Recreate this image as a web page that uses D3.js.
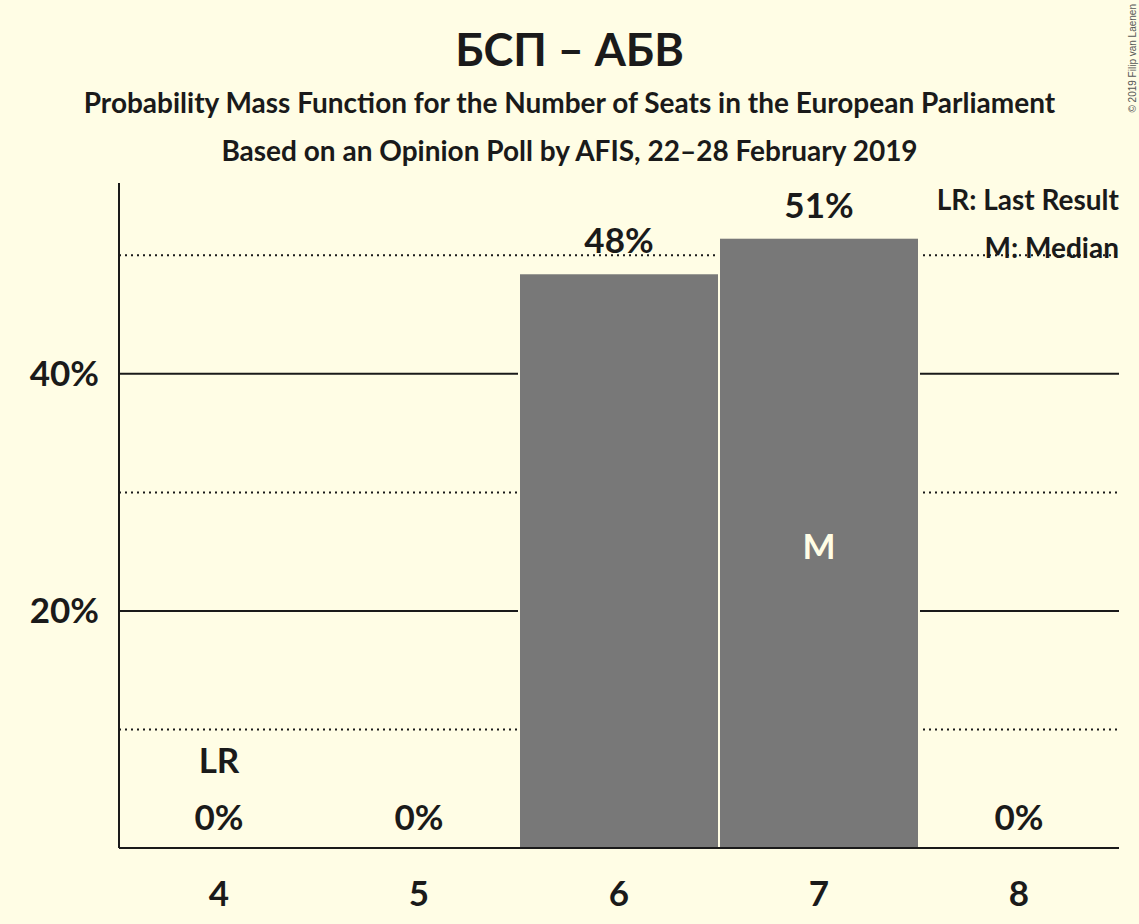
<!DOCTYPE html>
<html>
<head>
<meta charset="utf-8">
<script src="https://cdn.jsdelivr.net/npm/d3@7"></script>
<style>
  body { margin: 0; background: #fffde5; }
  svg text { font-family: Lato, "Open Sans", sans-serif; fill: #1a1a1a; }
</style>
</head>
<body>
<svg id="chart" width="1139" height="924"></svg>
<script>
// Seats and probabilities (percent)
const seats = [4, 5, 6, 7, 8];
const probabilities = [0, 0, 48.4, 51.4, 0];
const valueLabels = ["0%", "0%", "48%", "51%", "0%"];
const lastResult = 4;
const median = 7;
const yTicks = [20, 40];
const yMinorTicks = [10, 30, 50];

const bg = "#fffde5";
const barColor = "#787878";
const ink = "#1a1a1a";

const margin = { top: 183, right: 20, bottom: 76, left: 119 };
const width = 1139 - margin.left - margin.right;
const height = 924 - margin.top - margin.bottom;

const svg = d3.select("#chart");
svg.append("rect").attr("width", 1139).attr("height", 924).attr("fill", bg);

// Titles
svg.append("text")
	.attr("x", 569.5).attr("y", 66)
	.attr("text-anchor", "middle")
	.style("font-size", "45px").style("font-weight", "bold")
	.text("БСП – АБВ");
svg.append("text")
	.attr("x", 569.5).attr("y", 113)
	.attr("text-anchor", "middle")
	.style("font-size", "28px").style("font-weight", "bold")
	.text("Probability Mass Function for the Number of Seats in the European Parliament");
svg.append("text")
	.attr("x", 569.5).attr("y", 161)
	.attr("text-anchor", "middle")
	.style("font-size", "28px").style("font-weight", "bold")
	.text("Based on an Opinion Poll by AFIS, 22–28 February 2019");

// Copyright
svg.append("text")
	.attr("transform", "translate(1136,4) rotate(-90)")
	.attr("text-anchor", "end")
	.style("font-family", "'Liberation Sans', Arial, sans-serif")
	.style("font-size", "10px")
	.style("fill", "#555")
	.text("© 2019 Filip van Laenen");

const g = svg.append("g").attr("transform", `translate(${margin.left},${margin.top})`);

const x = d3.scaleBand().domain(seats).range([0, width]).padding(0);
const y = d3.scaleLinear().domain([0, 56.1]).range([height, 0]);

// Gridlines
g.selectAll(".minor")
	.data(yMinorTicks)
	.enter().append("line")
	.attr("x1", 0).attr("x2", width)
	.attr("y1", d => y(d)).attr("y2", d => y(d))
	.attr("stroke", ink).attr("stroke-width", 2)
	.attr("stroke-dasharray", "2,4");
g.selectAll(".major")
	.data(yTicks)
	.enter().append("line")
	.attr("x1", 0).attr("x2", width)
	.attr("y1", d => y(d)).attr("y2", d => y(d))
	.attr("stroke", ink).attr("stroke-width", 2);

// Legend
const legend = g.append("g").style("font-size", "28px").style("font-weight", "bold").attr("text-anchor", "end");
legend.append("text").attr("x", width).attr("y", 27).text("LR: Last Result");
legend.append("text").attr("x", width).attr("y", 75).text("M: Median");

// Bars
const data = seats.map((s, i) => ({ seat: s, value: probabilities[i], label: valueLabels[i] }));
const shown = data.filter(d => d.value > 0);

// background halo behind each bar so gridlines break around it
g.selectAll(".halo")
	.data(shown)
	.enter().append("rect")
	.attr("x", d => x(d.seat) - 1)
	.attr("width", x.bandwidth() + 2)
	.attr("y", d => y(d.value) - 2)
	.attr("height", d => height - y(d.value) + 1)
	.attr("fill", bg);

g.selectAll(".bar")
	.data(shown)
	.enter().append("rect")
	.attr("class", "bar")
	.attr("x", d => x(d.seat) + 1)
	.attr("width", x.bandwidth() - 2)
	.attr("y", d => y(d.value))
	.attr("height", d => height - y(d.value))
	.attr("fill", barColor);

// Value labels
g.selectAll(".value")
	.data(data)
	.enter().append("text")
	.attr("x", d => x(d.seat) + x.bandwidth() / 2)
	.attr("y", d => d.value > 0 ? y(d.value) - 21 : height - 18)
	.attr("text-anchor", "middle")
	.style("font-size", "35px").style("font-weight", "bold")
	.text(d => d.label);

// Last result marker
g.append("text")
	.attr("x", x(lastResult) + x.bandwidth() / 2)
	.attr("y", height - 75)
	.attr("text-anchor", "middle")
	.style("font-size", "35px").style("font-weight", "bold")
	.text("LR");

// Median marker
const medVal = probabilities[seats.indexOf(median)];
g.append("text")
	.attr("x", x(median) + x.bandwidth() / 2)
	.attr("y", y(medVal / 2) + 16)
	.attr("text-anchor", "middle")
	.style("font-size", "35px").style("font-weight", "bold")
	.style("fill", bg)
	.text("M");

// Axes
const yAxis = g.append("g")
	.call(d3.axisLeft(y).tickValues(yTicks).tickFormat(d => d + "%").tickSize(0).tickPadding(20));
yAxis.select(".domain").attr("stroke", ink).attr("stroke-width", 2).attr("d", `M0,${height}V0`);
yAxis.selectAll("text").style("font-size", "35px").style("font-weight", "bold").attr("fill", ink);

const xAxis = g.append("g")
	.attr("transform", `translate(0,${height})`)
	.call(d3.axisBottom(x).tickSize(0).tickPadding(33));
xAxis.select(".domain").attr("stroke", ink).attr("stroke-width", 2).attr("d", `M0,0H${width}`);
xAxis.selectAll("text").style("font-size", "35px").style("font-weight", "bold").attr("fill", ink);
</script>
</body>
</html>
